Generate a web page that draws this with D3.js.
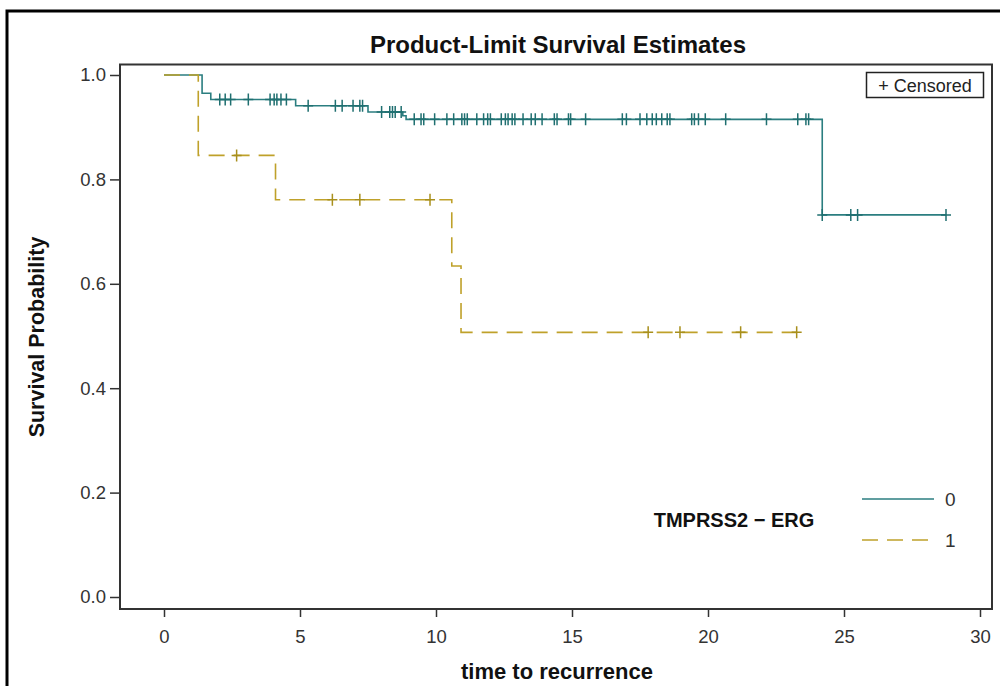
<!DOCTYPE html>
<html>
<head>
<meta charset="utf-8">
<script src="https://cdn.jsdelivr.net/npm/d3@7"></script>
<style>
  body { margin: 0; background: #fff; }
  svg { display: block; font-family: "Liberation Sans", Arial, sans-serif; }
</style>
</head>
<body>
<div id="chart"></div>
<script>
// step points of the KM curves (time where the level starts, survival level)
var stepTimes0 = [0, 1.40, 1.72, 4.84, 7.50, 8.78, 8.90, 24.20];
var surv0 = [1.0, 0.965, 0.953, 0.941, 0.929, 0.922, 0.915, 0.732];
var endTime0 = 28.75;

var stepTimes1 = [0, 1.26, 4.10, 10.58, 10.92];
var surv1 = [1.0, 0.846, 0.761, 0.634, 0.507];
var endTime1 = 23.26;

// censored times
var censor0 = [2.05, 2.25, 2.45, 3.1, 3.9, 4.05, 4.15, 4.3, 4.5,
  5.3, 6.3, 6.55, 6.95, 7.2, 7.3,
  8.0, 8.3, 8.4, 8.5, 8.72,
  9.2, 9.45, 9.55, 9.95, 10.4, 10.65, 10.95, 11.05, 11.15, 11.5, 11.75, 11.9, 12.0,
  12.4, 12.55, 12.65, 12.8, 12.9, 13.2, 13.5, 13.65, 13.9, 14.35, 14.45, 14.87, 14.95,
  15.5, 16.85, 17.0, 17.5, 17.75, 17.95, 18.1, 18.3, 18.5, 18.6, 19.4, 19.5, 19.65,
  19.9, 20.65, 22.15, 23.3, 23.6, 23.7,
  24.2, 25.25, 25.5, 28.75];
var censor1 = [2.67, 6.19, 7.2, 9.78, 17.8, 18.97, 21.2, 23.26];

var xTicks = [0, 5, 10, 15, 20, 25, 30];
var yTicks = [0, 0.2, 0.4, 0.6, 0.8, 1.0];
var groupLabels = ["0", "1"];

var svgWidth = 1000;
var svgHeight = 686;

var color0 = "#2b7e80";
var color1 = "#bfa12a";

var svg = d3.select("#chart")
  .append("svg")
  .attr("width", svgWidth)
  .attr("height", svgHeight);

// outer figure border
svg.append("rect")
  .attr("x", 7).attr("y", 11)
  .attr("width", 1010).attr("height", 700)
  .attr("fill", "none")
  .attr("stroke", "#000")
  .attr("stroke-width", 3);

var frame = {left: 120, top: 64.5, right: 992, bottom: 609};

var x = d3.scaleLinear().domain([0, 30]).range([164, 980]);
var y = d3.scaleLinear().domain([0, 1]).range([597, 75]);

svg.append("text")
  .attr("x", 558).attr("y", 53)
  .attr("text-anchor", "middle")
  .attr("font-size", 24)
  .attr("font-weight", "bold")
  .attr("fill", "#111")
  .text("Product-Limit Survival Estimates");

// axes
var xAxis = d3.axisBottom(x).tickValues(xTicks).tickSize(8).tickPadding(7);
var yAxis = d3.axisLeft(y).tickValues(yTicks).tickFormat(d3.format(".1f")).tickSize(10).tickPadding(4);

var gx = svg.append("g")
  .attr("transform", "translate(0," + frame.bottom + ")")
  .call(xAxis);
var gy = svg.append("g")
  .attr("transform", "translate(" + frame.left + ",0)")
  .call(yAxis);

[gx, gy].forEach(function(g) {
  g.select(".domain").remove();
  g.selectAll(".tick line").attr("stroke", "#333").attr("stroke-width", 1.5);
  g.selectAll(".tick text")
    .attr("font-size", 18.5)
    .attr("fill", "#333")
    .attr("font-family", "Liberation Sans, Arial, sans-serif");
});
gx.selectAll(".tick text").attr("dy", "1em");

svg.append("rect")
  .attr("x", frame.left).attr("y", frame.top)
  .attr("width", frame.right - frame.left)
  .attr("height", frame.bottom - frame.top)
  .attr("fill", "none")
  .attr("stroke", "#333")
  .attr("stroke-width", 2);

svg.append("text")
  .attr("x", 557).attr("y", 679)
  .attr("text-anchor", "middle")
  .attr("font-size", 22)
  .attr("font-weight", "bold")
  .attr("fill", "#111")
  .text("time to recurrence");

svg.append("text")
  .attr("transform", "translate(44,337) rotate(-90)")
  .attr("text-anchor", "middle")
  .attr("font-size", 21.5)
  .attr("font-weight", "bold")
  .attr("fill", "#111")
  .text("Survival Probability");

// step curves
function stepPoints(times, levels, endT) {
  var pts = times.map(function(t, i) { return [t, levels[i]]; });
  pts.push([endT, levels[levels.length - 1]]);
  return pts;
}
function levelAt(times, levels, t) {
  var v = levels[0];
  for (var i = 0; i < times.length; i++) {
    if (times[i] <= t) v = levels[i];
  }
  return v;
}

var line = d3.line()
  .x(function(d) { return x(d[0]); })
  .y(function(d) { return y(d[1]); })
  .curve(d3.curveStepAfter);

var plot = svg.append("g");

plot.append("path")
  .datum(stepPoints(stepTimes0, surv0, endTime0))
  .attr("d", line)
  .attr("fill", "none")
  .attr("stroke", color0)
  .attr("stroke-width", 1.6);

plot.append("path")
  .datum(stepPoints(stepTimes1, surv1, endTime1))
  .attr("d", line)
  .attr("fill", "none")
  .attr("stroke", color1)
  .attr("stroke-width", 1.6)
  .attr("stroke-dasharray", "16,9");

var plus = "M-5,0H5M0,-6V6";

plot.selectAll(".c0")
  .data(censor0)
  .enter()
  .append("path")
  .attr("class", "c0")
  .attr("transform", function(d) { return "translate(" + x(d) + "," + y(levelAt(stepTimes0, surv0, d)) + ")"; })
  .attr("d", plus)
  .attr("stroke", "#1f6f70")
  .attr("stroke-width", 1.5)
  .attr("fill", "none");

plot.selectAll(".c1")
  .data(censor1)
  .enter()
  .append("path")
  .attr("class", "c1")
  .attr("transform", function(d) { return "translate(" + x(d) + "," + y(levelAt(stepTimes1, surv1, d)) + ")"; })
  .attr("d", plus)
  .attr("stroke", "#a88f1c")
  .attr("stroke-width", 1.5)
  .attr("fill", "none");

// censored legend box
svg.append("rect")
  .attr("x", 866.5).attr("y", 72.5)
  .attr("width", 117).attr("height", 25)
  .attr("fill", "#fff")
  .attr("stroke", "#222")
  .attr("stroke-width", 1.5);
svg.append("text")
  .attr("x", 925).attr("y", 92)
  .attr("text-anchor", "middle")
  .attr("font-size", 18)
  .attr("fill", "#222")
  .text("+ Censored");

// group legend
svg.append("text")
  .attr("x", 734).attr("y", 527)
  .attr("text-anchor", "middle")
  .attr("font-size", 20)
  .attr("font-weight", "bold")
  .attr("fill", "#111")
  .text("TMPRSS2 \u2212 ERG");

var legendY = d3.scalePoint().domain(groupLabels).range([499, 540]);
var legend = svg.selectAll(".leg")
  .data(groupLabels)
  .enter()
  .append("g")
  .attr("class", "leg")
  .attr("transform", function(d) { return "translate(0," + legendY(d) + ")"; });

legend.append("line")
  .attr("x1", 862).attr("x2", 934)
  .attr("y1", 0).attr("y2", 0)
  .attr("stroke", function(d, i) { return i === 0 ? color0 : color1; })
  .attr("stroke-width", 1.6)
  .attr("stroke-dasharray", function(d, i) { return i === 0 ? null : "16,9"; });

legend.append("text")
  .attr("x", 945).attr("y", 0)
  .attr("dy", "0.35em")
  .attr("font-size", 19)
  .attr("fill", "#333")
  .text(function(d) { return d; });
</script>
</body>
</html>
